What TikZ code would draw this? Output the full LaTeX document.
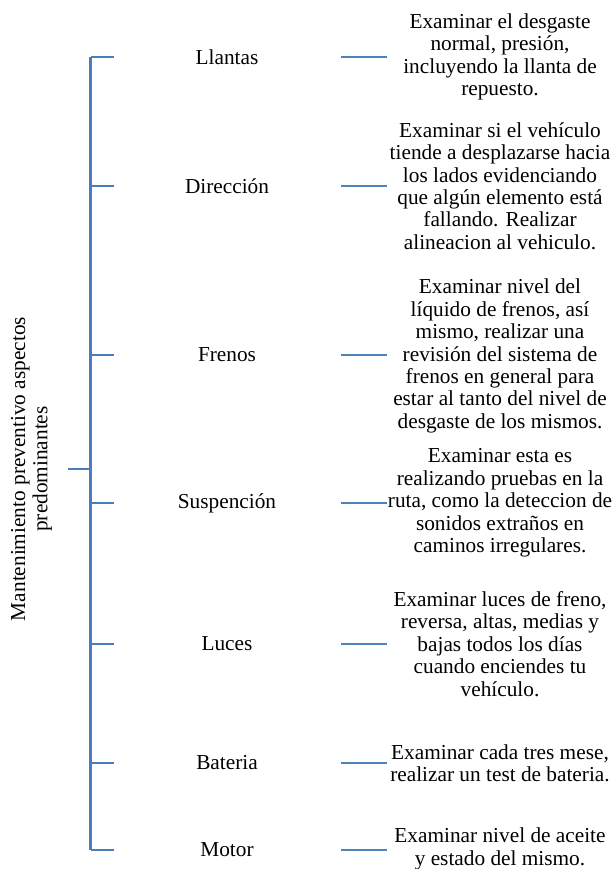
\documentclass[tikz,border=0pt]{standalone}
\usepackage{fontspec}
\setmainfont{Liberation Serif}
\usetikzlibrary{positioning}
\definecolor{treeblue}{HTML}{4A7EBB}
\definecolor{stubblue}{HTML}{4F81BD}
\tikzstyle{tree} = [line width=2.6pt, draw=treeblue]
\tikzstyle{stub} = [line width=2.4pt, draw=stubblue]
\tikzstyle{item} = [inner sep=0pt, font=\fontsize{21.3}{22.4}\selectfont]
\tikzstyle{desc} = [inner sep=0pt, align=center, font=\fontsize{21.3}{22.4}\selectfont]

\begin{document}
\begin{tikzpicture}[x=1pt,y=-1pt]
            \useasboundingbox (0,0) rectangle (613,869);

            \coordinate (top) at (90.6,57);
            \coordinate (bot) at (90.6,850);
            \coordinate (root) at (67.8,469);
            \coordinate (br) at (113.7,0);
            \coordinate (sl) at (341,0);
            \coordinate (sr) at (387,0);

            \node[item, rotate=90, align=center] (title) at (31.5,469) {Mantenimiento preventivo aspectos\\predominantes};

            \node[item] (llantas) at (227,57) {Llantas};
            \node[item] (direccion) at (227,186) {Dirección};
            \node[item] (frenos) at (227,355) {Frenos};
            \node[item] (suspencion) at (227,503) {Suspención};
            \node[item] (luces) at (227,644) {Luces};
            \node[item] (bateria) at (227,763) {Bateria};
            \node[item] (motor) at (227,850) {Motor};

            \node[desc] (d-llantas) at (500,57) {Examinar el desgaste\\normal,  presión,\\incluyendo la llanta de\\repuesto.};
            \node[desc] (d-direccion) at (500,186) {Examinar si el vehículo\\tiende a desplazarse hacia\\los lados evidenciando\\que algún elemento está\\fallando. Realizar\\alineacion al vehiculo.};
            \node[desc] (d-frenos) at (500,356) {Examinar nivel del\\líquido de frenos, así\\mismo, realizar una\\revisión del sistema de\\frenos en general para\\estar al tanto del nivel de\\desgaste de los mismos.};
            \node[desc] (d-suspencion) at (500,503) {Examinar esta es\\realizando pruebas en la\\ruta, como la deteccion de\\sonidos extraños en\\caminos irregulares.};
            \node[desc] (d-luces) at (500,644) {Examinar luces de freno,\\reversa, altas, medias y\\bajas todos los días\\cuando enciendes tu\\vehículo.};
            \node[desc] (d-bateria) at (500,763) {Examinar cada tres mese,\\realizar un test de bateria.};
            \node[desc] (d-motor) at (500,849) {Examinar nivel de aceite\\y estado del mismo.};

            \draw[tree] (top) -- (bot);
            \draw[tree] (root) -- (root -| top);
            \foreach \n in {llantas,direccion,frenos,suspencion,luces,bateria,motor} {
                \draw[tree] (\n -| top) -- (\n -| br);
                \draw[stub] (\n -| sl) -- (\n -| sr);
            }

        \end{tikzpicture}
\end{document}
